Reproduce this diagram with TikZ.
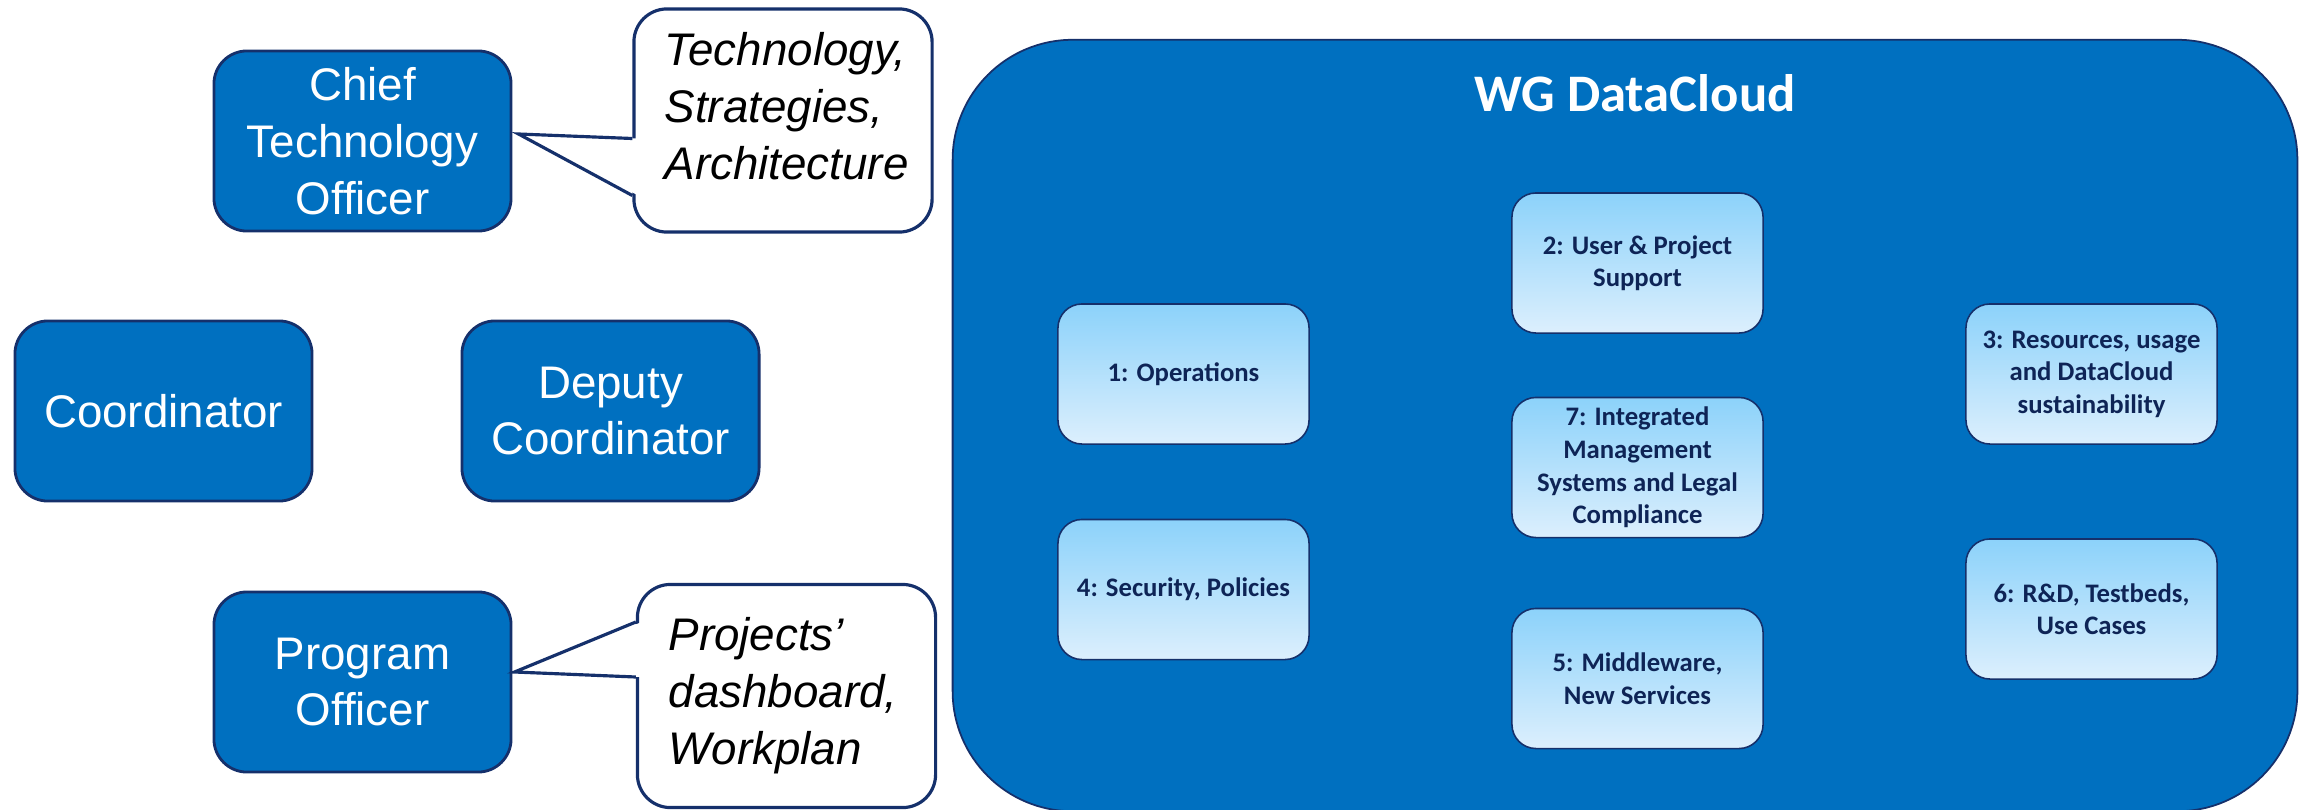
\documentclass[tikz,border=0pt]{standalone}
\usepackage{fontspec}
\setmainfont{Liberation Sans}
\newfontfamily\calibri{Carlito}
\usetikzlibrary{
    calc,
    positioning
}
\definecolor{wgblue}{HTML}{0070C0}
\definecolor{wgnavy}{HTML}{15306B}
\definecolor{tasktop}{HTML}{8CD2FA}
\definecolor{taskbottom}{HTML}{DCEFFD}
\definecolor{tasktext}{HTML}{0E2456}
\tikzset{
    every picture/.style = {
        x = 0.01cm,
        y = -0.01cm
    },
    role/.style = {
        draw = wgnavy,
        line width = 0.8pt,
        fill = wgblue,
        rounded corners = 0.33cm,
        minimum width = 2.97cm,
        minimum height = 1.8cm,
        inner sep = 0pt,
        text = white,
        align = center,
        font = \fontsize{13}{16.2}\selectfont
    },
    bubble/.style = {
        draw = wgnavy,
        line width = 0.9pt,
        fill = white,
        rounded corners = 0.33cm,
        minimum width = 2.98cm,
        minimum height = 2.23cm,
        inner sep = 0pt
    },
    saying/.style = {
        anchor = west,
        inner sep = 0pt,
        align = left,
        font = \fontsize{13}{16.2}\selectfont\itshape
    },
    pointer/.style = {
        draw = wgnavy,
        line width = 0.9pt,
        line join = miter
    },
    wg/.style = {
        draw = wgnavy,
        line width = 0.5pt,
        fill = wgblue,
        rounded corners = 1.2cm,
        minimum width = 13.44cm,
        minimum height = 7.71cm,
        inner sep = 0pt
    },
    task/.style = {
        draw = wgnavy,
        line width = 0.45pt,
        top color = tasktop,
        bottom color = taskbottom,
        rounded corners = 0.24cm,
        minimum width = 2.51cm,
        minimum height = 1.4cm,
        inner sep = 0pt,
        align = center,
        text = tasktext,
        font = \calibri\bfseries\fontsize{7.6}{9.25}\selectfont
    }
}

\begin{document}
\begin{tikzpicture}

    \useasboundingbox (0, 0) rectangle (2306, 809);

    \node[role] (cto) at (362.5, 141) {Chief\\Technology\\Officer};
    \node[role] (coord) at (163.5, 411) {Coordinator};
    \node[role] (deputy) at (610.5, 411) {Deputy\\Coordinator};
    \node[role] (po) at (362.5, 682) {Program\\Officer};

    \node[bubble] (tech) at (783, 120.5) {};
    \node[bubble] (plan) at (786.5, 696) {};

    \fill[white] ($(tech.west) + (6, 18)$) -- ($(cto.east) + (6, -7)$) -- ($(tech.west) + (6, 75)$) -- cycle;
    \path[pointer] ($(tech.west) + (0, 18)$) -- ($(cto.east) + (6, -7)$) -- ($(tech.west) + (0, 75)$);
    \fill[white] ($(plan.west) + (6, -74)$) -- ($(po.east) + (2, -10)$) -- ($(plan.west) + (6, -19)$) -- cycle;
    \path[pointer] ($(plan.west) + (0, -74)$) -- ($(po.east) + (2, -10)$) -- ($(plan.west) + (0, -19)$);

    \node[saying] (techtext) at (664, 106.5) {Technology,\\Strategies,\\Architecture};
    \node[saying] (plantext) at (668, 695.5) {Projects’\\dashboard,\\Workplan};

    \node[wg] (wg) at (1625, 425.5) {};
    \node[anchor = base, text = white, inner sep = 0pt, font = \calibri\bfseries\fontsize{15}{18}\selectfont] (title) at (1635, 111) {WG DataCloud};

    \node[task] (ops) at (1183.5, 374) {1: Operations};
    \node[task] (sec) at (1183.5, 589.5) {4: Security, Policies};
    \node[task] (support) at (1637.5, 263) {2: User \& Project\\Support};
    \node[task] (ims) at (1637.5, 467.5) {7: Integrated\\Management\\Systems and Legal\\Compliance};
    \node[task] (mw) at (1637.5, 678.5) {5: Middleware,\\New Services};
    \node[task] (res) at (2091.5, 374) {3: Resources, usage\\and DataCloud\\sustainability};
    \node[task] (rnd) at (2091.5, 609) {6: R\&D, Testbeds,\\Use Cases};

\end{tikzpicture}
\end{document}
